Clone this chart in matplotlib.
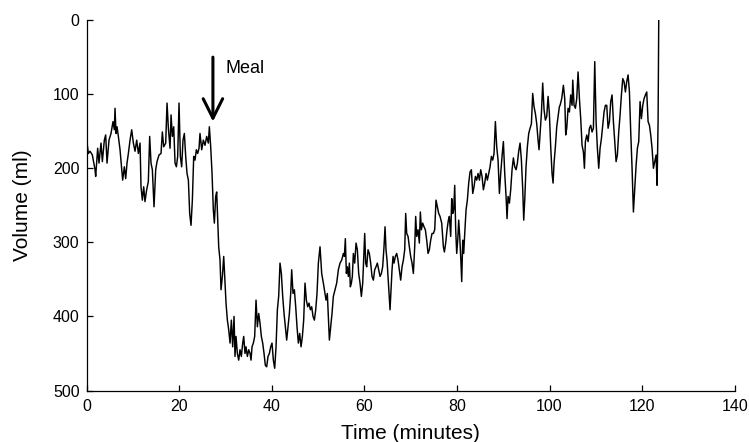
import matplotlib
matplotlib.use('Agg')
import matplotlib.pyplot as plt
import numpy as np

plt.rcParams['font.family'] = ['Liberation Sans', 'DejaVu Sans']

# ---- data (time in minutes, volume in ml) ----
t1 = [0.0, 0.4, 0.76, 1.26, 1.84, 1.98, 2.41, 2.70, 3.13, 3.42, 3.85, 4.14, 4.43, 4.86, 5.29,
      5.72, 6.01, 6.16, 6.37, 6.59, 6.88, 7.24, 7.60, 7.81, 8.17, 8.46, 8.75, 9.04, 9.40, 9.76,
      10.12, 10.48, 10.84, 11.20, 11.56, 11.77, 12.06, 12.35, 12.63, 12.99, 13.35, 13.64, 13.93,
      14.22, 14.58, 14.94, 15.23, 15.66, 16.09, 16.38, 16.67, 17.10, 17.39, 17.68, 18.04, 18.26,
      18.54, 18.83, 19.12, 19.41, 19.69, 19.98, 20.27, 20.55, 20.84, 21.13, 21.42, 21.71, 22.00,
      22.28, 22.57, 22.86, 23.15, 23.43, 23.72, 24.01, 24.30]
v1 = [160, 180, 177, 182, 202, 211, 173, 193, 166, 191, 162, 155, 193, 162, 153,
      137, 148, 119, 153, 144, 157, 175, 202, 216, 198, 214, 193, 180, 162, 148,
      166, 177, 162, 180, 166, 225, 243, 225, 245, 229, 218, 157, 193, 202, 252,
      202, 191, 182, 180, 151, 171, 166, 112, 146, 173, 128, 157, 144, 193, 198,
      184, 112, 184, 198, 162, 153, 184, 207, 216, 261, 277, 243, 184, 189, 175,
      180, 173]

t2 = [24.51, 24.88, 25.23, 25.59, 25.95, 26.31, 26.53, 26.82, 27.11, 27.39, 27.61, 27.90, 28.11,
      28.33, 28.55, 28.83, 29.05, 29.34, 29.63, 29.84, 30.13, 30.42, 30.71, 31.00, 31.28, 31.57,
      31.86, 32.07, 32.29, 32.58, 32.87, 33.15, 33.44, 33.73, 33.95, 34.23, 34.45, 34.74, 35.03,
      35.32, 35.53, 35.75, 36.03, 36.32, 36.61, 36.90, 37.19, 37.47, 37.76, 38.05, 38.34, 38.62,
      38.91, 39.20, 39.49, 39.78, 40.06, 40.35, 40.64, 40.93, 41.22, 41.50, 41.79, 42.08, 42.37,
      42.66, 42.94, 43.23, 43.52, 43.81, 44.10, 44.31, 44.60, 44.89, 45.18, 45.46, 45.75, 46.04,
      46.33, 46.62, 46.90, 47.19, 47.48, 47.77, 48.06, 48.34, 48.63, 48.92, 49.21, 49.50, 49.78,
      50.07]
v2 = [153, 175, 162, 169, 157, 166, 144, 171, 207, 256, 274, 238, 232, 270, 306,
      324, 364, 346, 319, 346, 382, 405, 418, 436, 405, 441, 400, 454, 427, 450,
      459, 445, 454, 436, 427, 450, 441, 454, 445, 450, 459, 441, 436, 427, 378,
      414, 396, 409, 427, 436, 450, 466, 468, 454, 450, 441, 436, 459, 470, 441,
      391, 373, 328, 342, 373, 396, 414, 432, 414, 396, 369, 337, 369, 364, 387,
      414, 436, 423, 441, 427, 405, 355, 378, 387, 382, 391, 387, 400, 405, 391,
      369, 328]

t3 = [50.43, 50.79, 51.15, 51.51, 51.73, 52.01, 52.23, 52.45, 52.73, 53.02, 53.31, 53.67, 54.03,
      54.39, 54.75, 55.11, 55.47, 55.69, 55.90, 56.12, 56.33, 56.55, 56.77, 56.98, 57.20, 57.41,
      57.63, 57.92, 58.21, 58.49, 58.78, 59.07, 59.36, 59.65, 59.86, 60.08, 60.29, 60.51, 60.80,
      61.08, 61.37, 61.66, 61.95, 62.24, 62.52, 62.81, 63.10, 63.39, 63.68, 63.96, 64.25, 64.47,
      64.68, 64.90, 65.12, 65.33, 65.55, 65.76, 65.98, 66.20, 66.41, 66.70, 66.99, 67.28, 67.56,
      67.85, 68.14, 68.43, 68.72, 68.93, 69.15, 69.44, 69.72, 70.01, 70.30, 70.59, 70.88, 71.09,
      71.31, 71.60, 71.88, 72.10, 72.32, 72.60, 72.89, 73.18, 73.47, 73.76, 74.04, 74.33, 74.62,
      74.91, 75.20, 75.48, 75.77, 76.06]
v3 = [306, 342, 355, 369, 378, 369, 400, 432, 414, 396, 373, 364, 355, 337, 328,
      324, 315, 319, 295, 342, 333, 346, 328, 360, 355, 346, 315, 328, 301, 310,
      342, 355, 373, 355, 324, 288, 328, 333, 310, 315, 328, 346, 351, 337, 333,
      328, 337, 346, 342, 333, 306, 279, 310, 324, 346, 369, 391, 364, 337, 319,
      328, 319, 315, 324, 337, 351, 333, 324, 310, 261, 288, 292, 306, 319, 328,
      342, 306, 265, 292, 283, 301, 259, 283, 274, 279, 283, 297, 315, 310, 297,
      288, 288, 283, 243, 252, 261]

t4 = [76.35, 76.71, 77.07, 77.29, 77.57, 77.86, 78.15, 78.37, 78.65, 78.87, 79.09, 79.30, 79.52,
      79.73, 79.95, 80.17, 80.38, 80.60, 80.81, 81.03, 81.25, 81.46, 81.68, 81.97, 82.25, 82.54,
      82.83, 83.12, 83.41, 83.69, 83.98, 84.27, 84.56, 84.85, 85.13, 85.42, 85.71, 86.00, 86.29,
      86.57, 86.86, 87.15, 87.44, 87.73, 88.01, 88.30, 88.59, 88.88, 89.17, 89.45, 89.74, 90.03,
      90.32, 90.61, 90.82, 91.04, 91.33, 91.61, 91.90, 92.19, 92.48, 92.77, 93.05, 93.34, 93.63,
      93.92, 94.21, 94.42, 94.64, 94.92, 95.21, 95.50, 95.79, 96.08, 96.36, 96.65, 96.94, 97.23,
      97.52, 97.73, 97.95, 98.24, 98.52, 98.81, 99.10, 99.39, 99.68, 99.96, 100.25, 100.54,
      100.76, 100.97, 101.26, 101.55, 101.84, 102.12]
v4 = [265, 274, 306, 313, 301, 283, 270, 265, 292, 241, 261, 256, 223, 283, 315,
      297, 270, 292, 319, 353, 297, 315, 288, 256, 243, 220, 205, 202, 234, 225,
      211, 216, 207, 216, 202, 211, 229, 220, 207, 216, 207, 198, 184, 189, 180,
      137, 171, 189, 234, 207, 184, 164, 207, 238, 268, 238, 247, 229, 202, 186,
      198, 202, 193, 177, 166, 189, 229, 270, 243, 198, 171, 153, 146, 140, 99,
      117, 126, 140, 162, 175, 153, 126, 85, 121, 135, 130, 103, 126, 171, 207,
      220, 193, 171, 144, 130, 117]

t5 = [102.27, 102.63, 102.99, 103.28, 103.49, 103.71, 104.00, 104.29, 104.57, 104.86, 105.01,
      105.29, 105.58, 105.87, 106.16, 106.45, 106.73, 107.02, 107.31, 107.53, 107.74, 108.03,
      108.32, 108.61, 108.89, 109.18, 109.47, 109.76, 110.05, 110.33, 110.62, 110.91, 111.20,
      111.49, 111.77, 112.06, 112.35, 112.64, 112.93, 113.21, 113.50, 113.79, 114.08, 114.37,
      114.65, 114.94, 115.23, 115.52, 115.81, 116.09, 116.38, 116.67, 116.96, 117.25, 117.53,
      117.82, 118.11, 118.40, 118.69, 118.97, 119.26, 119.55, 119.84, 120.13, 120.41, 120.70,
      120.99, 121.28, 121.57, 121.85, 122.14, 122.43, 122.72, 123.01, 123.22, 123.44, 123.58]
v5 = [115, 106, 88, 106, 155, 146, 119, 124, 101, 115, 81, 115, 119, 106, 70,
      106, 133, 169, 178, 200, 164, 155, 164, 146, 142, 151, 146, 56, 137, 173,
      200, 173, 160, 142, 124, 115, 115, 146, 137, 110, 101, 137, 164, 191, 182,
      151, 128, 101, 79, 83, 97, 83, 74, 97, 151, 200, 259, 227, 196, 173,
      164, 110, 133, 115, 106, 101, 97, 137, 142, 155, 173, 200, 191, 182, 223,
      137, 0]

x_ticks = [0, 20, 40, 60, 80, 100, 120, 140]
y_ticks = [0, 100, 200, 300, 400, 500]
meal_time = 27.3
meal_label = 'Meal'

time = np.concatenate([t1, t2, t3, t4, t5])
volume = np.concatenate([v1, v2, v3, v4, v5])

fig = plt.figure(figsize=(7.49, 4.42), dpi=100)
ax = fig.add_axes([0.1155, 0.1165, 0.8655, 0.838])

ax.plot(time, volume, color='black', lw=1.05)

ax.set_xlim(0, 140)
ax.set_ylim(500, 0)
ax.set_xticks(x_ticks)
ax.set_yticks(y_ticks)
for s in ['top', 'right']:
    ax.spines[s].set_visible(False)
for s in ['left', 'bottom']:
    ax.spines[s].set_linewidth(0.9)
ax.tick_params(direction='in', length=4, width=0.9, labelsize=11.5)
ax.tick_params(axis='x', pad=6)
ax.tick_params(axis='y', pad=5)
ax.set_xlabel('Time (minutes)', fontsize=15, labelpad=7)
ax.set_ylabel('Volume (ml)', fontsize=15, labelpad=15)

ax.annotate('', xy=(meal_time, 137), xytext=(meal_time, 50),
            arrowprops=dict(arrowstyle='->,head_length=1.4,head_width=0.7',
                            lw=2.2, color='black', shrinkA=0, shrinkB=0,
                            mutation_scale=10))
ax.text(meal_time + 2.8, 71, meal_label, fontsize=13, va='baseline', ha='left')

fig.savefig('out.png', dpi=100)
